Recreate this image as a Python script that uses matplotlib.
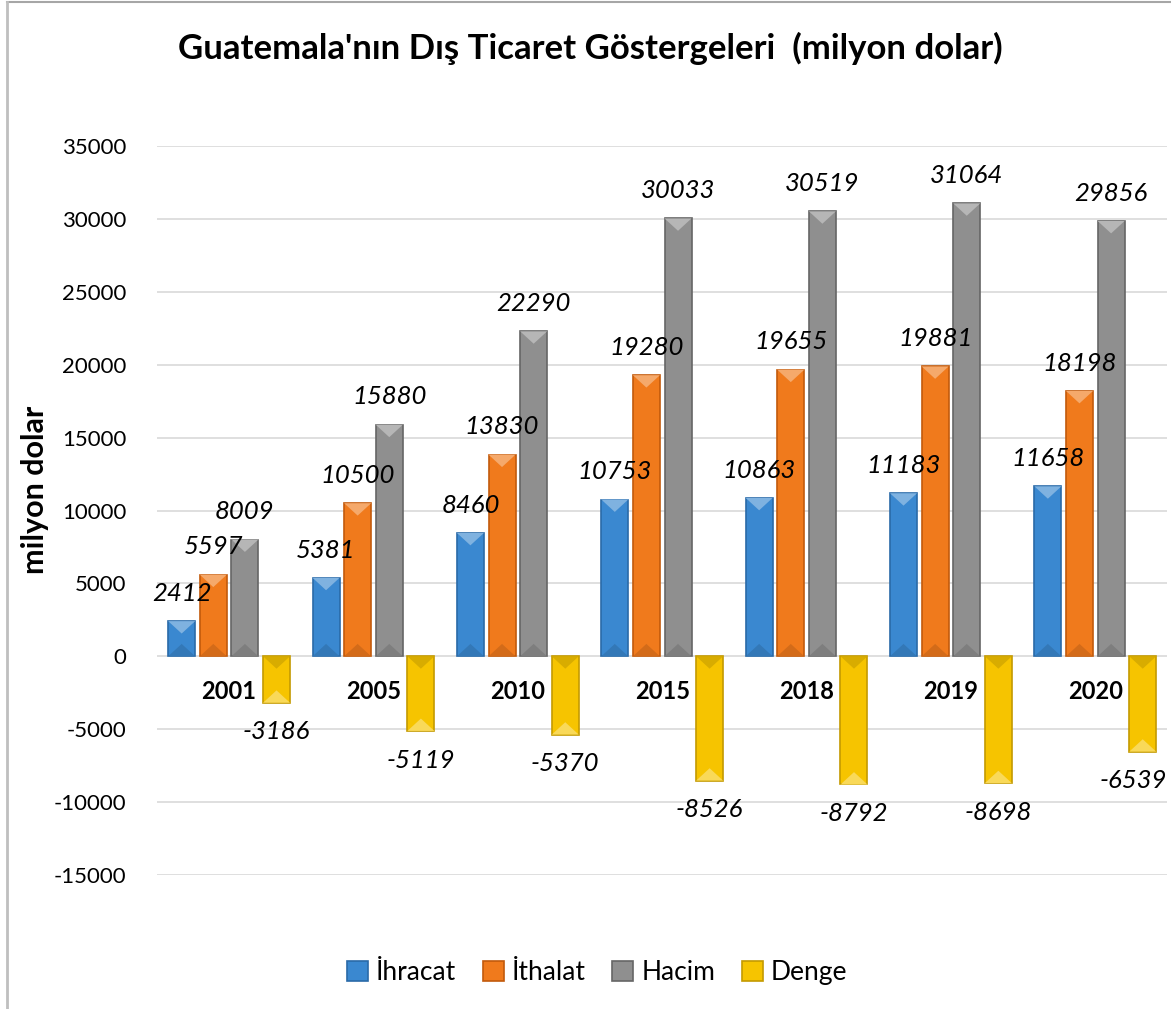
import numpy as np
import matplotlib.pyplot as plt
from matplotlib.patches import Polygon
from matplotlib.lines import Line2D
import matplotlib.colors as mcolors

years = ['2001', '2005', '2010', '2015', '2018', '2019', '2020']
ihracat = [2412, 5381, 8460, 10753, 10863, 11183, 11658]
ithalat = [5597, 10500, 13830, 19280, 19655, 19881, 18198]
hacim = [8009, 15880, 22290, 30033, 30519, 31064, 29856]
denge = [-3186, -5119, -5370, -8526, -8792, -8698, -6539]

series = [ihracat, ithalat, hacim, denge]
names = ['İhracat', 'İthalat', 'Hacim', 'Denge']
colors = ['#3a88d0', '#f07a1c', '#8f8f8f', '#f6c400']
edges = ['#2a6aa8', '#c25a0c', '#666666', '#c49a00']

plt.rcParams['font.family'] = ['Lato', 'DejaVu Sans']
plt.rcParams['axes.unicode_minus'] = False

def lighter(c, f):
    r, g, b = mcolors.to_rgb(c)
    return (r + (1 - r) * f, g + (1 - g) * f, b + (1 - b) * f)

def darker(c, f):
    r, g, b = mcolors.to_rgb(c)
    return (r * (1 - f), g * (1 - f), b * (1 - f))

fig = plt.figure(figsize=(11.71, 10.09), dpi=100)
ax = fig.add_axes([0.134, 0.1328, 0.863, 0.7225])

x = np.arange(len(years))
step = 0.219
width = 0.187
facet = 850  # bevel facet depth in data units
for k, vals in enumerate(series):
    pos = x + (k - 1.5) * step
    bars = ax.bar(pos, vals, width, color=colors[k], edgecolor=edges[k],
                  linewidth=1.2, label=names[k], zorder=3)
    for i, (b, v) in enumerate(zip(bars, vals)):
        x0 = b.get_x()
        x1 = x0 + b.get_width()
        cx = (x0 + x1) / 2
        sgn = 1 if v >= 0 else -1
        # bevel: light facet at the end, dark facet at the base
        ax.add_patch(Polygon([(x0, v), (x1, v), (cx, v - sgn * facet)], closed=True,
                             facecolor=lighter(colors[k], 0.35), edgecolor='none', zorder=4))
        ax.add_patch(Polygon([(x0, 0), (x1, 0), (cx, sgn * facet)], closed=True,
                             facecolor=darker(colors[k], 0.12), edgecolor='none', zorder=4))
        # last label sits against the right edge, pull it in a bit
        dx = -7 if i == len(vals) - 1 and v < 0 else 0
        ax.annotate(str(v), (cx, v), xytext=(dx, 20 * sgn + (sgn < 0) * -1),
                    textcoords='offset points', ha='center', va='center',
                    fontsize=18.5, style='italic', zorder=10, annotation_clip=False)

for i, yr in enumerate(years):
    ax.text(i, -2400, yr, ha='center', va='center', fontsize=17, fontweight='bold', zorder=10)

ax.set_xlim(-0.5, len(years) - 0.5)
ax.set_ylim(-15000, 35000)
ax.set_yticks(range(-15000, 35001, 5000))
ax.set_xticks([])
ax.tick_params(axis='y', length=0, labelsize=16, pad=22)
ax.grid(axis='y', color='#d9d9d9', linewidth=1.2, zorder=0)
for s in ax.spines.values():
    s.set_visible(False)

fig.text(0.03, 0.514, 'milyon dolar', rotation=90, ha='center', va='center',
         fontsize=22, fontweight='bold')

fig.text(0.504, 0.952, "Guatemala'nın Dış Ticaret Göstergeleri  (milyon dolar)",
         ha='center', va='center', fontsize=25, fontweight='bold')

fig.legend(loc='center', bbox_to_anchor=(0.51, 0.036), ncol=4, frameon=False,
           fontsize=19, handlelength=0.8, handleheight=0.8, handletextpad=0.3,
           columnspacing=1.0)

# chart frame: only the top and left edges are inside the picture
fig.add_artist(Line2D([0.006, 1], [0.9985, 0.9985], transform=fig.transFigure,
                      color='#a6a6a6', linewidth=1.5))
fig.add_artist(Line2D([0.006, 0.006], [0, 0.9985], transform=fig.transFigure,
                      color='#bfbfbf', linewidth=2))

fig.savefig('out.png', dpi=100)
